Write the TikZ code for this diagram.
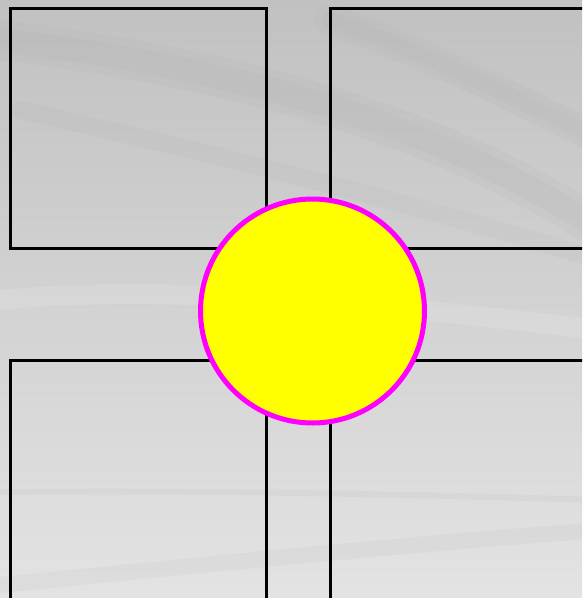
\documentclass[tikz,border=0pt]{standalone}
\usepackage{tikz}
\usetikzlibrary{positioning}
\definecolor{HubYellow}{HTML}{FFFF00}
\definecolor{HubRim}{HTML}{FF00FF}
\definecolor{SkyTop}{HTML}{C0C1C0}
\definecolor{SkyBottom}{HTML}{E3E3E3}
\definecolor{Streak}{HTML}{A8A8A8}

\begin{document}
\begin{tikzpicture}[x=1pt,y=-1pt,
    panel/.style={draw=black,line width=3.2pt,minimum width=256pt,minimum height=240pt,
                  inner sep=0pt,anchor=north west},
    hub/.style={circle,draw=HubRim,fill=HubYellow,line width=5pt,minimum size=224pt,inner sep=0pt},
    streak/.style={line cap=round,opacity=0.1}
  ]
  \useasboundingbox (0,0) rectangle (582,598);
  \clip (0,0) rectangle (582,598);
  % backdrop
  \fill[top color=SkyTop,bottom color=SkyBottom] (0,0) rectangle (582,598);
  \draw[streak,Streak,line width=40pt] (0,40) .. controls (250,70) and (450,130) .. (600,230);
  \draw[streak,Streak,line width=24pt] (0,40) .. controls (250,70) and (450,130) .. (600,230);
  \draw[streak,Streak,line width=30pt] (330,20) .. controls (420,50) and (520,100) .. (600,140);
  \draw[streak,Streak,line width=16pt] (330,20) .. controls (420,50) and (520,100) .. (600,140);
  \draw[streak,Streak,line width=18pt] (20,110) .. controls (200,150) and (400,200) .. (600,260);
  \draw[streak,Streak,line width=6pt] (0,492) .. controls (200,490) and (400,494) .. (600,500);
  \draw[streak,Streak,line width=16pt] (0,585) .. controls (200,565) and (400,545) .. (600,530);
  \draw[streak,white,line width=20pt,opacity=0.12] (0,300) .. controls (150,285) and (350,300) .. (600,330);
  % panels
  \node[panel] (tl) at (9,7)   {};
  \node[panel] (tr) at (329,7) {};
  \node[panel] (bl) at (9,359) {};
  \node[panel] (br) at (329,359) {};
  % centre disc
  \node[hub] (disc) at (312.5,311) {};
\end{tikzpicture}
\end{document}
